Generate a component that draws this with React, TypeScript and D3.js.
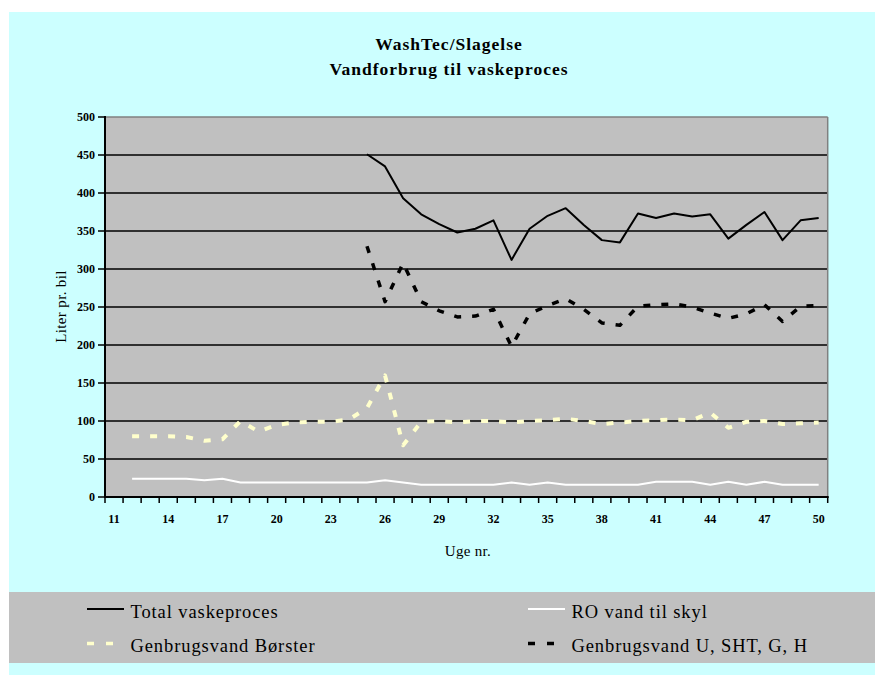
import React from "react";
import * as d3 from "d3";

// Weeks on the category axis
const weeks: number[] = d3.range(11, 51);
const weekLabels: number[] = [11, 14, 17, 20, 23, 26, 29, 32, 35, 38, 41, 44, 47, 50];
const yTicks: number[] = [0, 50, 100, 150, 200, 250, 300, 350, 400, 450, 500];

// Liter per car, weeks 11..50 (null = no measurement)
const totalVaskeproces: (number | null)[] = [
  null, null, null, null, null, null, null, null, null, null, null, null, null, null,
  451, 435, 393, 372, 359, 348, 353, 364, 312, 353, 370, 380, 358, 338, 335, 373,
  367, 373, 369, 372, 340, 358, 375, 338, 364, 367,
];
const roVandTilSkyl: (number | null)[] = [
  null, 24, 24, 24, 24, 22, 24, 19, 19, 19, 19, 19, 19, 19, 19, 22, 19, 16, 16, 16,
  16, 16, 19, 16, 19, 16, 16, 16, 16, 16, 20, 20, 20, 16, 20, 16, 20, 16, 16, 16,
];
const genbrugsvandBorster: (number | null)[] = [
  null, 80, 80, 80, 79, 74, 76, 100, 86, 95, 98, 99, 99, 102, 117, 160, 68, 99, 100, 98,
  100, 100, 98, 100, 101, 103, 100, 96, 98, 100, 101, 102, 101, 111, 91, 99, 100, 96, 97, 98,
];
const genbrugsvandUSHT: (number | null)[] = [
  null, null, null, null, null, null, null, null, null, null, null, null, null, null,
  330, 257, 308, 257, 245, 237, 238, 247, 198, 241, 252, 261, 247, 229, 226, 251,
  253, 254, 250, 242, 235, 241, 253, 231, 251, 252,
];

const titleLines: string[] = ["WashTec/Slagelse", "Vandforbrug til vaskeproces"];
const yTitle = "Liter pr. bil";
const xTitle = "Uge nr.";

type SeriesStyle = {
  name: string;
  values: (number | null)[];
  color: string;
  width: number;
  dash?: string;
};

const series: SeriesStyle[] = [
  { name: "Total vaskeproces", values: totalVaskeproces, color: "#000000", width: 2 },
  { name: "RO vand til skyl", values: roVandTilSkyl, color: "#FFFFFF", width: 2 },
  { name: "Genbrugsvand Børster", values: genbrugsvandBorster, color: "#FFFFCC", width: 4, dash: "7 11" },
  { name: "Genbrugsvand U, SHT, G, H", values: genbrugsvandUSHT, color: "#000000", width: 3.5, dash: "7 11" },
];

const W = 875;
const H = 675;
const plot = { left: 105, right: 827.7, top: 117, bottom: 497 };
const serif = "'Liberation Serif', 'Times New Roman', serif";

export default function App() {
  const x = d3
    .scaleBand<number>()
    .domain(weeks)
    .range([plot.left, plot.right])
    .padding(0);
  const y = d3.scaleLinear().domain([0, 500]).range([plot.bottom, plot.top]);
  const cx = (w: number) => (x(w) as number) + x.bandwidth() / 2;

  const line = d3
    .line<{ w: number; v: number | null }>()
    .defined((d) => d.v != null)
    .x((d) => cx(d.w))
    .y((d) => y(d.v as number));

  const boundaries = d3.range(0, weeks.length + 1).map((i) => plot.left + i * x.bandwidth());

  // legend layout: two columns, two rows
  const legendCols = [87, 528];
  const legendRows = [609, 643.5];
  const legendItems = [
    { s: series[0], col: 0, row: 0 },
    { s: series[1], col: 1, row: 0 },
    { s: series[2], col: 0, row: 1 },
    { s: series[3], col: 1, row: 1 },
  ];

  return (
    <svg
      width={W}
      height={H}
      style={{ position: "absolute", left: 0, top: 0, display: "block" }}
    >
      <rect x={0} y={0} width={W} height={H} fill="#FFFFFF" />
      <rect x={9} y={12} width={W - 9} height={H - 12} fill="#CCFFFF" />

      {/* title */}
      <text
        x={449}
        fontFamily={serif}
        fontWeight="bold"
        fontSize={17.5}
        letterSpacing={1}
        textAnchor="middle"
        fill="#000"
      >
        <tspan x={449} y={50}>{titleLines[0]}</tspan>
        <tspan x={449} y={74.5}>{titleLines[1]}</tspan>
      </text>

      {/* plot area */}
      <rect
        x={plot.left}
        y={plot.top}
        width={plot.right - plot.left}
        height={plot.bottom - plot.top}
        fill="#C0C0C0"
      />
      {yTicks
        .filter((t) => t > 0 && t < 500)
        .map((t) => (
          <line
            key={"g" + t}
            x1={plot.left}
            x2={plot.right}
            y1={y(t)}
            y2={y(t)}
            stroke="#000"
            strokeWidth={1.5}
          />
        ))}
      <line x1={plot.left} x2={plot.right} y1={plot.top} y2={plot.top} stroke="#808080" strokeWidth={1.5} />
      <line x1={plot.right} x2={plot.right} y1={plot.top} y2={plot.bottom} stroke="#808080" strokeWidth={1.5} />

      {/* series */}
      {series.map((s) => (
        <path
          key={s.name}
          d={line(weeks.map((w, i) => ({ w, v: s.values[i] }))) || ""}
          fill="none"
          stroke={s.color}
          strokeWidth={s.width}
          strokeDasharray={s.dash}
          strokeLinejoin="round"
        />
      ))}

      {/* axes */}
      <line x1={plot.left} x2={plot.left} y1={plot.top - 1} y2={plot.bottom + 1} stroke="#000" strokeWidth={2} />
      <line x1={plot.left - 1} x2={plot.right + 1} y1={plot.bottom} y2={plot.bottom} stroke="#000" strokeWidth={2} />
      {yTicks.map((t) => (
        <g key={"yt" + t}>
          <line x1={plot.left - 7} x2={plot.left} y1={y(t)} y2={y(t)} stroke="#000" strokeWidth={1.5} />
          <text
            x={95}
            y={y(t) + 4}
            textAnchor="end"
            fontFamily={serif}
            fontWeight="bold"
            fontSize={12}
            fill="#000"
          >
            {t}
          </text>
        </g>
      ))}
      {boundaries.map((b, i) => (
        <line key={"xt" + i} x1={b} x2={b} y1={plot.bottom} y2={plot.bottom + 6} stroke="#000" strokeWidth={1.5} />
      ))}
      {weekLabels.map((w) => (
        <text
          key={"xl" + w}
          x={cx(w)}
          y={522.5}
          textAnchor="middle"
          fontFamily={serif}
          fontWeight="bold"
          fontSize={12}
          fill="#000"
        >
          {w}
        </text>
      ))}

      <text
        transform="translate(65.5,306.5) rotate(-90)"
        textAnchor="middle"
        fontFamily={serif}
        fontSize={15}
        letterSpacing={0.35}
        fill="#000"
      >
        {yTitle}
      </text>
      <text
        x={468}
        y={556}
        textAnchor="middle"
        fontFamily={serif}
        fontSize={15}
        letterSpacing={0.3}
        fill="#000"
      >
        {xTitle}
      </text>

      {/* legend */}
      <rect x={9} y={592} width={W - 9} height={71} fill="#C0C0C0" />
      {legendItems.map(({ s, col, row }) => {
        const lx = legendCols[col];
        const ly = legendRows[row];
        return (
          <g key={"lg" + s.name}>
            <line
              x1={lx}
              x2={lx + 37}
              y1={ly}
              y2={ly}
              stroke={s.color}
              strokeWidth={s.dash ? 3.5 : 2}
              strokeDasharray={s.dash ? "7 12" : undefined}
            />
            <text
              x={lx + 43.5}
              y={ly + 8.5}
              fontFamily={serif}
              fontSize={18.5}
              letterSpacing={0.9}
              fill="#000"
            >
              {s.name}
            </text>
          </g>
        );
      })}
    </svg>
  );
}
